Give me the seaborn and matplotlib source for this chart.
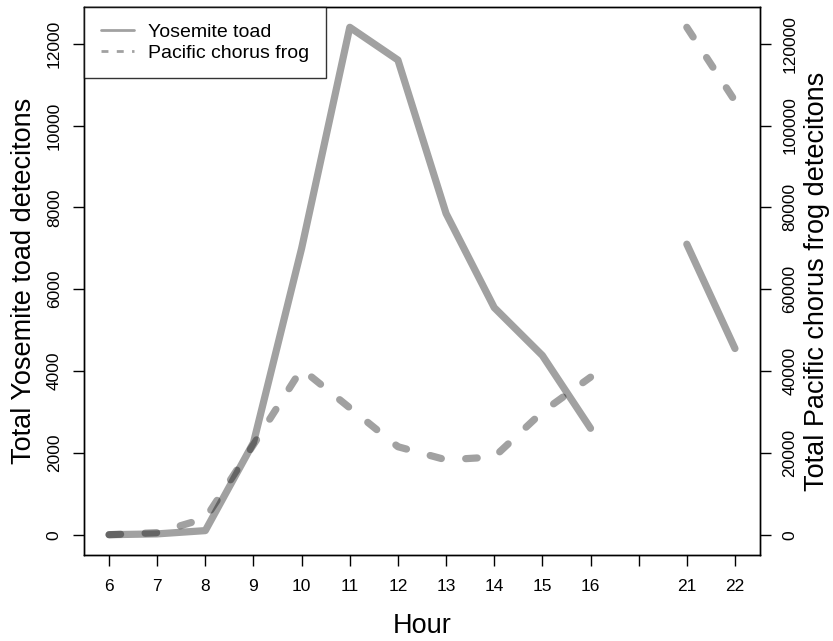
import numpy as np
import pandas as pd
import seaborn as sns
import matplotlib.pyplot as plt
from matplotlib.lines import Line2D

hours = ["6", "7", "8", "9", "10", "11", "12", "13", "14", "15", "16", "", "21", "22"]
toad = [0, 20, 100, 2250, 7000, 12400, 11600, 7850, 5550, 4380, 2600, np.nan, 7100, 4550]
frog = [0, 500, 4000, 22000, 40500, 31000, 21500, 18300, 19000, 30000, 38500, np.nan, 124000, 106000]

sns.set_style("white")
plt.rcParams['font.family'] = ['Liberation Sans', 'DejaVu Sans']
plt.rcParams['text.color'] = 'black'
plt.rcParams['axes.labelcolor'] = 'black'
plt.rcParams['xtick.color'] = 'black'
plt.rcParams['ytick.color'] = 'black'

pos = np.arange(1, len(hours) + 1)
df = pd.DataFrame({'pos': pos, 'toad': toad, 'frog': frog})
# break the lines where an hour has no data
df['block'] = df['toad'].isna().cumsum()

fig = plt.figure(figsize=(8.33, 6.41), dpi=100)
ax = fig.add_axes([84 / 833, 86 / 641, 676 / 833, 548 / 641])
ax2 = ax.twinx()

line_kw = dict(color='black', alpha=0.37, lw=5.2, solid_capstyle='round',
               solid_joinstyle='round', dash_capstyle='round', dash_joinstyle='round')

sns.lineplot(data=df, x='pos', y='toad', units='block', estimator=None,
             ax=ax, legend=False, **line_kw)
sns.lineplot(data=df, x='pos', y='frog', units='block', estimator=None,
             ax=ax2, legend=False, linestyle=(0, (1.6, 3.4)), **line_kw)

ax.set_xlim(0.48, 14.52)
ax.set_ylim(-496, 12896)
ax2.set_ylim(-4960, 128960)

ax.set_xticks(pos)
ax.set_xticklabels(hours)
ax.set_yticks(np.arange(0, 12001, 2000))
ax2.set_yticks(np.arange(0, 120001, 20000))

for a in (ax, ax2):
    for s in a.spines.values():
        s.set_color('black')
        s.set_linewidth(1)
    a.grid(False)

ax.tick_params(axis='x', direction='out', length=8, width=1, colors='black',
               labelsize=12.5, pad=9, bottom=True)
ax.tick_params(axis='y', direction='out', length=8, width=1, colors='black',
               labelsize=12.5, pad=8, labelrotation=90, left=True)
ax2.tick_params(axis='y', direction='out', length=8, width=1, colors='black',
                labelsize=12.5, pad=8, labelrotation=90, right=True)
for lab in ax.get_yticklabels() + ax2.get_yticklabels():
    lab.set_va('center')

ax.set_xlabel("Hour", fontsize=19.5, color='black')
ax.set_ylabel("Total Yosemite toad detecitons", fontsize=19.5, color='black')
ax2.set_ylabel("Total Pacific chorus frog detecitons", fontsize=19.5, color='black')
ax.xaxis.set_label_coords(0.5, -0.105)
ax.yaxis.set_label_coords(-0.0695, 0.5)
ax2.yaxis.set_label_coords(1.065, 0.5)

handles = [
    Line2D([], [], color='black', alpha=0.37, lw=2),
    Line2D([], [], color='black', alpha=0.37, lw=2, linestyle=(0, (2.5, 3))),
]
leg = ax2.legend(handles, ["Yosemite toad", "Pacific chorus frog"], loc='upper left',
                 fontsize=14, frameon=True, fancybox=False, borderaxespad=0,
                 borderpad=0.85, handlelength=1.7, handletextpad=0.75, labelspacing=0.15)
leg.get_frame().set_edgecolor('black')
leg.get_frame().set_linewidth(1)
for t in leg.get_texts():
    t.set_color('black')

fig.savefig("out.png", dpi=100)
